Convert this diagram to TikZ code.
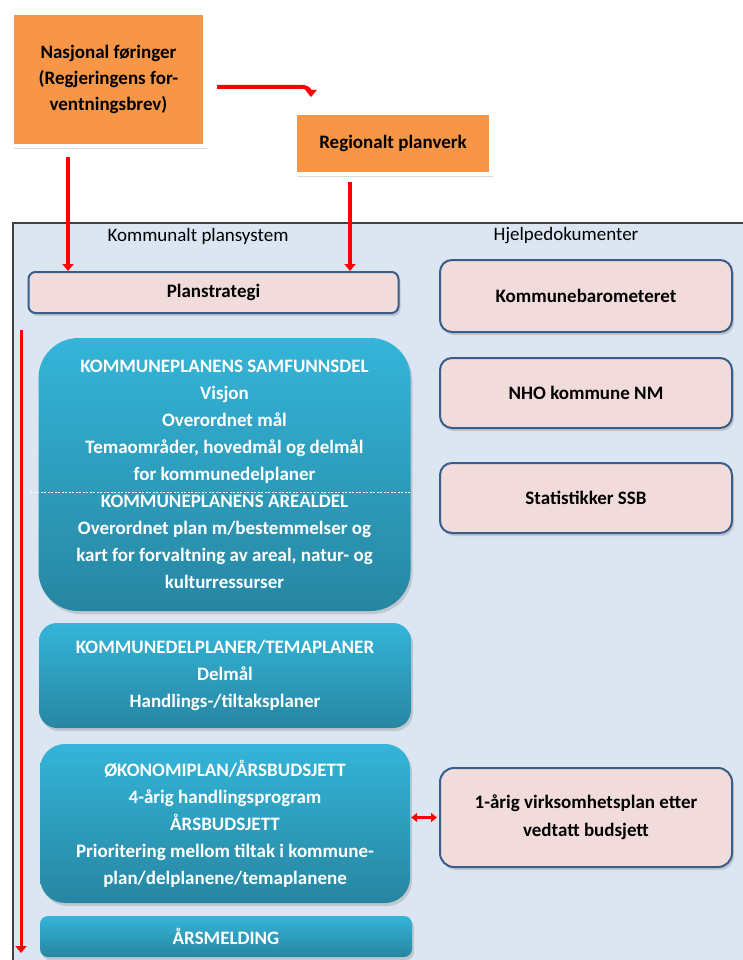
\documentclass[tikz,border=0pt]{standalone}
\usepackage{fontspec}
\setmainfont{Carlito}
\usetikzlibrary{arrows.meta,shadows,calc}
\definecolor{orangefill}{RGB}{247,150,70}
\definecolor{pinkfill}{RGB}{242,220,219}
\definecolor{pinkline}{RGB}{56,93,138}
\definecolor{panelfill}{RGB}{220,230,242}
\definecolor{paneldraw}{RGB}{64,64,64}
\definecolor{tealtop}{RGB}{52,181,217}
\definecolor{tealbot}{RGB}{39,134,161}
\definecolor{arrowred}{RGB}{255,0,0}

\begin{document}
\begin{tikzpicture}[x=1pt,y=1pt,yscale=-1,
  every node/.style={font=\fontsize{19}{27}\selectfont, align=center, inner sep=0pt},
  boxshadow/.style={drop shadow={shadow xshift=2pt,shadow yshift=-3pt,opacity=0.3}},
  orangebox/.style={draw=white, line width=4pt, fill=orangefill, boxshadow, font=\fontsize{19}{26}\selectfont\bfseries},
  pinkbox/.style={draw=pinkline, line width=2pt, fill=pinkfill, boxshadow, font=\fontsize{19}{28}\selectfont\bfseries},
  tealbox/.style={rounded corners=#1, top color=tealtop, bottom color=tealbot, text=white, boxshadow, font=\fontsize{19}{27}\selectfont\bfseries},
  redarrow/.style={draw=arrowred, line width=4pt, -{Triangle[length=7pt,width=11pt]}},
]
\useasboundingbox (0,0) rectangle (742,960);

%Shape: Rectangle [panel]
\draw [fill=panelfill, draw=paneldraw, line width=1.2pt] (13,223) rectangle (770,990);

% Text Node
\node (plansys) at (198,236) {Kommunalt plansystem};
% Text Node
\node (hjelp) at (566,236) {Hjelpedokumenter};

%Shape: Rectangle [id:nasjonal]
\node [orangebox, minimum width=193pt, minimum height=133pt] (nasjonal) at (108.5,79.5) {Nasjonal føringer\\(Regjeringens for-\\ventningsbrev)};
%Shape: Rectangle [id:regional]
\node [orangebox, minimum width=196pt, minimum height=61pt] (regional) at (393,143.5) {Regionalt planverk};

%Shape: Rounded Rect [id:planstrategi]
\node [pinkbox, rounded corners=7pt, minimum width=370pt, minimum height=41pt] (planstrategi) at (213.5,292.5) {Planstrategi};

%Shape: Rounded Rect [right column]
\node [pinkbox, rounded corners=12pt, minimum width=292pt, minimum height=72pt] (komb) at (586,296) {Kommunebarometeret};
\node [pinkbox, rounded corners=12pt, minimum width=292pt, minimum height=70pt] (nho) at (586,393) {NHO kommune NM};
\node [pinkbox, rounded corners=12pt, minimum width=292pt, minimum height=70pt] (ssb) at (586,498) {Statistikker SSB};
\node [pinkbox, rounded corners=14pt, minimum width=292pt, minimum height=99pt] (virk) at (586,817.5) {1-årig virksomhetsplan etter\\vedtatt budsjett};

%Shape: Rounded Rect [teal column]
\node [tealbox=40pt, minimum width=372pt, minimum height=273pt] (samfunn) at (224.5,474.5) {KOMMUNEPLANENS SAMFUNNSDEL\\Visjon\\Overordnet mål\\Temaområder, hovedmål og delmål\\for kommunedelplaner\\KOMMUNEPLANENS AREALDEL\\Overordnet plan m/bestemmelser og\\kart for forvaltning av areal, natur- og\\kulturressurser};
\node [tealbox=18pt, minimum width=372pt, minimum height=105pt] (delplan) at (225,675.5) {KOMMUNEDELPLANER/TEMAPLANER\\Delmål\\Handlings-/tiltaksplaner};
\node [tealbox=25pt, minimum width=370pt, minimum height=159pt] (okonomi) at (225,823.5) {ØKONOMIPLAN/ÅRSBUDSJETT\\4-årig handlingsprogram\\ÅRSBUDSJETT\\Prioritering mellom tiltak i kommune-\\plan/delplanene/temaplanene};
\node [tealbox=8pt, minimum width=372pt, minimum height=41pt] (arsmelding) at (226,936.5) {ÅRSMELDING};

%Straight Lines [dashed divider]
\draw [white, line width=0.6pt, dash pattern=on 2pt off 1.5pt] ($(samfunn.north west)+(-8,154)$) -- ($(samfunn.north east)+(0,154)$);

%Straight Lines [arrows]
\coordinate (regtip) at (311,97);
\draw [redarrow, rounded corners=8pt] ($(nasjonal.east)+(10,7.5)$) -| (regtip);
\draw [redarrow] ($(nasjonal.south)+(-40.5,9)$) coordinate (n1) -- (n1 |- planstrategi.north);
\draw [redarrow] ($(regional.south)+(-43,6)$) coordinate (r1) -- (r1 |- planstrategi.north);

%Straight Lines [time line]
\coordinate (tlstart) at (21,330);
\coordinate (tlend) at (21,953);
\draw [redarrow, line width=3pt] (tlstart) -- (tlend);

%Straight Lines [double arrow]
\draw [redarrow, line width=3pt, {Triangle[length=6pt,width=9pt]}-{Triangle[length=6pt,width=9pt]}] ($(okonomi.east |- virk.west)+(1,0)$) -- ($(virk.west)+(-2,0)$);

\end{tikzpicture}
\end{document}
